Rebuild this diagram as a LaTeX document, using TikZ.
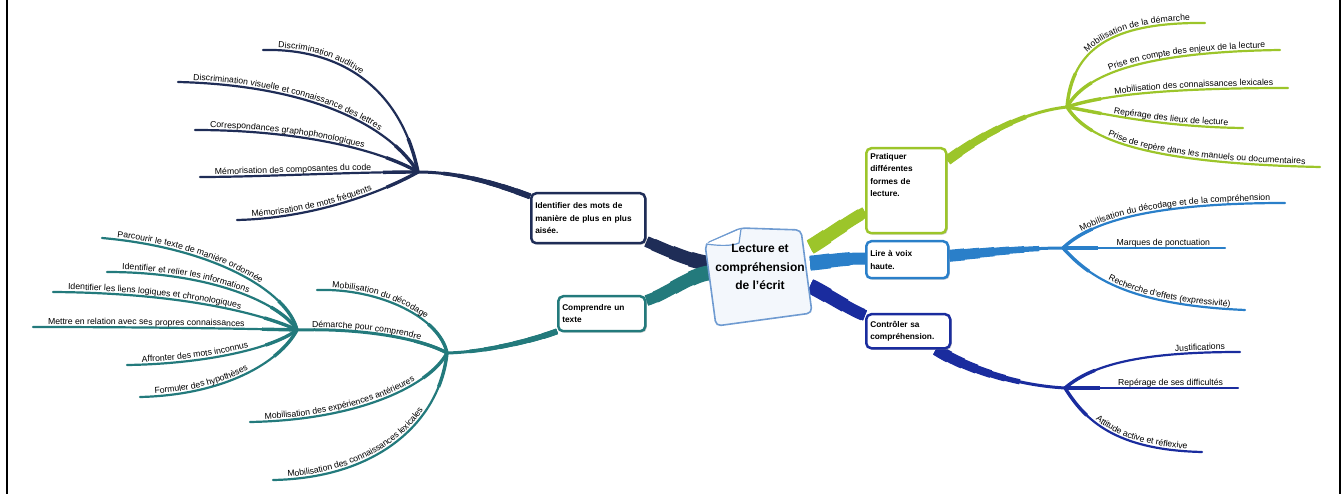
\documentclass[tikz,border=0pt]{standalone}
\usepackage{fontspec}
\setmainfont{Liberation Sans}
\usetikzlibrary{backgrounds,shadows,decorations.text}

\definecolor{navyc}{HTML}{1F2D57}
\definecolor{tealc}{HTML}{237A7C}
\definecolor{greenc}{HTML}{9CC52A}
\definecolor{bluec}{HTML}{2A7FC9}
\definecolor{royalc}{HTML}{1A2C9E}
\definecolor{pageedge}{HTML}{6F9BD1}
\definecolor{pagefill}{HTML}{F3F7FC}

\newcommand\leaffont{\fontsize{8.7}{11}\selectfont\color{black}}

\tikzset{
  trunk/.style={draw=#1, line width=10,
    preaction={draw=#1, line width=15, dash pattern=on 20pt off 3000pt},
    preaction={draw=#1, line width=13.5, dash pattern=on 40pt off 3000pt},
    preaction={draw=#1, line width=12, dash pattern=on 60pt off 3000pt},
    preaction={draw=#1, line width=11, dash pattern=on 80pt off 3000pt}},
  limb/.style 2 args={draw=#1, line width=3,
    preaction={draw=#1, line width=#2, dash pattern=on 15pt off 3000pt},
    preaction={draw=#1, line width=0.85*#2+0.45, dash pattern=on 30pt off 3000pt},
    preaction={draw=#1, line width=0.7*#2+0.9, dash pattern=on 45pt off 3000pt},
    preaction={draw=#1, line width=0.55*#2+1.35, dash pattern=on 60pt off 3000pt},
    preaction={draw=#1, line width=0.4*#2+1.8, dash pattern=on 75pt off 3000pt},
    preaction={draw=#1, line width=0.25*#2+2.25, dash pattern=on 90pt off 3000pt}},
  twig/.style={draw=#1, line width=2.2, line cap=round,
    preaction={draw=#1, line width=3.4, dash pattern=on 35pt off 3000pt}},
  lft/.style={postaction={decorate, decoration={text along path, reverse path,
    raise=2.5pt, text align={left indent=15pt}, text={|\leaffont|#1}}}},
  rgt/.style={postaction={decorate, decoration={text along path,
    raise=2.5pt, text align={right, right indent=15pt}, text={|\leaffont|#1}}}},
  box/.style={draw, line width=2.5, rounded corners=5, fill=white, anchor=north west,
    align=left, inner xsep=4, inner ysep=4, font=\bfseries\fontsize{8.3}{12.5}\selectfont,
    drop shadow={shadow xshift=1.5pt, shadow yshift=-1.5pt, fill=black!40, opacity=0.5}}
}

\begin{document}
\begin{tikzpicture}[x=1pt, y=-1pt]
  \useasboundingbox (0,0) rectangle (1344,494);
  \draw[line width=2.5] (7,0) -- (7,494);
  \draw[line width=2.5] (1340,0) -- (1340,494);

  \node[font=\bfseries\fontsize{12}{18.5}\selectfont, align=center, minimum width=100, minimum height=78] (root) at (760,267) {Lecture et\\compréhension\\de l'écrit};

  \node[box, draw=navyc, text width=106, minimum height=50] (ident) at (530,192) {Identifier des mots de\\manière de plus en plus\\aisée.};
  \node[box, draw=tealc, text width=79, minimum height=35] (compr) at (557,295) {Comprendre un\\texte};
  \node[box, draw=greenc, text width=72, minimum height=85] (prat) at (865,147) {Pratiquer\\différentes\\formes de\\lecture.\\[19pt]~};
  \node[box, draw=bluec, text width=74, minimum height=37] (lire) at (865,240) {Lire à voix\\haute.};
  \node[box, draw=royalc, text width=76, minimum height=34] (ctrl) at (865,313) {Contrôler sa\\compréhension.};

  \coordinate (hId) at (418,172);
  \coordinate (hComp) at (447,353);
  \coordinate (hDem) at (297,330);
  \coordinate (hPrat) at (1067,107);
  \coordinate (hLire) at (1063,248);
  \coordinate (hCtrl) at (1065,388);

  \coordinate (id1) at (263,50);
  \coordinate (id2) at (178,82);
  \coordinate (id3) at (195,130);
  \coordinate (id4) at (200,177);
  \coordinate (id5) at (237,220);
  \coordinate (co1) at (317,290);
  \coordinate (co2) at (250,422);
  \coordinate (co3) at (273,480);
  \coordinate (de1) at (102,238);
  \coordinate (de2) at (107,272);
  \coordinate (de3) at (53,292);
  \coordinate (de4) at (33,327);
  \coordinate (de5) at (127,365);
  \coordinate (de6) at (140,397);
  \coordinate (pr1) at (1205,23);
  \coordinate (pr2) at (1280,50);
  \coordinate (pr3) at (1288,88);
  \coordinate (pr4) at (1243,128);
  \coordinate (pr5) at (1320,167);
  \coordinate (li1) at (1285,203);
  \coordinate (li2) at (1225,248);
  \coordinate (li3) at (1245,310);
  \coordinate (ct1) at (1240,352);
  \coordinate (ct2) at (1238,388);
  \coordinate (ct3) at (1202,452);

  \begin{scope}[on background layer]
    % Identifier des mots
    \draw[trunk=navyc] (root) .. controls (690,262) and (655,245) .. (ident);
    \draw[limb={navyc}{6}] (ident) .. controls (500,185) and (460,172) .. (hId);
    \draw[twig=navyc, lft={Discrimination auditive}] (hId) .. controls (402,92) and (345,48) .. (id1);
    \draw[twig=navyc, lft={Discrimination visuelle et connaissance des lettres}] (hId) .. controls (385,120) and (300,85) .. (id2);
    \draw[twig=navyc, lft={Correspondances graphophonologiques}] (hId) .. controls (380,150) and (300,130) .. (id3);
    \draw[twig=navyc, lft={Mémorisation des composantes du code}] (hId) .. controls (350,172) and (260,177) .. (id4);
    \draw[twig=navyc, lft={Mémorisation de mots fréquents}] (hId) .. controls (390,188) and (320,218) .. (id5);

    % Comprendre un texte
    \draw[trunk=tealc] (root) .. controls (690,275) and (665,295) .. (compr);
    \draw[limb={tealc}{6}] (compr) .. controls (540,338) and (490,352) .. (hComp);
    \draw[twig=tealc, lft={Mobilisation du décodage}] (hComp) .. controls (440,318) and (380,288) .. (co1);
    \draw[twig=tealc, line width=3, lft={Démarche pour comprendre}] (hComp) .. controls (420,338) and (360,328) .. (hDem);
    \draw[twig=tealc, lft={Mobilisation des expériences antérieures}] (hComp) .. controls (430,385) and (360,420) .. (co2);
    \draw[twig=tealc, lft={Mobilisation des connaissances lexicales}] (hComp) .. controls (440,420) and (380,478) .. (co3);
    \draw[twig=tealc, lft={Parcourir le texte de manière ordonnée}] (hDem) .. controls (288,292) and (215,248) .. (de1);
    \draw[twig=tealc, lft={Identifier et relier les informations}] (hDem) .. controls (282,305) and (215,272) .. (de2);
    \draw[twig=tealc, lft={Identifier les liens logiques et chronologiques}] (hDem) .. controls (272,318) and (195,293) .. (de3);
    \draw[twig=tealc, lft={Mettre en relation avec ses propres connaissances}] (hDem) .. controls (220,328) and (120,327) .. (de4);
    \draw[twig=tealc, lft={Affronter des mots inconnus}] (hDem) .. controls (270,350) and (200,364) .. (de5);
    \draw[twig=tealc, lft={Formuler des hypothèses}] (hDem) .. controls (280,362) and (225,395) .. (de6);

    % Pratiquer differentes formes de lecture
    \draw[trunk=greenc] (root) .. controls (815,245) and (850,220) .. (prat);
    \draw[limb={greenc}{10}] (prat) .. controls (975,140) and (1020,112) .. (hPrat);
    \draw[twig=greenc, rgt={Mobilisation de la démarche}] (hPrat) .. controls (1072,50) and (1110,22) .. (pr1);
    \draw[twig=greenc, rgt={Prise en compte des enjeux de la lecture}] (hPrat) .. controls (1085,75) and (1140,52) .. (pr2);
    \draw[twig=greenc, rgt={Mobilisation des connaissances lexicales}] (hPrat) .. controls (1100,96) and (1160,88) .. (pr3);
    \draw[twig=greenc, rgt={Repérage des lieux de lecture}] (hPrat) .. controls (1100,113) and (1160,127) .. (pr4);
    \draw[twig=greenc, rgt={Prise de repère dans les manuels ou documentaires}] (hPrat) .. controls (1085,135) and (1130,163) .. (pr5);

    % Lire a voix haute
    \draw[trunk=bluec] (root) .. controls (825,262) and (845,258) .. (lire);
    \draw[limb={bluec}{12}] (lire) .. controls (990,252) and (1030,248) .. (hLire);
    \draw[twig=bluec, rgt={Mobilisation du décodage et de la compréhension}] (hLire) .. controls (1090,222) and (1150,203) .. (li1);
    \draw[twig=bluec, rgt={Marques de ponctuation}] (hLire) -- (li2);
    \draw[twig=bluec, rgt={Recherche d'effets (expressivité)}] (hLire) .. controls (1090,278) and (1130,305) .. (li3);

    % Controler sa comprehension
    \draw[trunk=royalc] (root) .. controls (820,290) and (850,310) .. (ctrl);
    \draw[limb={royalc}{12}] (ctrl) .. controls (960,365) and (1010,385) .. (hCtrl);
    \draw[twig=royalc, rgt={Justifications}] (hCtrl) .. controls (1095,362) and (1150,352) .. (ct1);
    \draw[twig=royalc, rgt={Repérage de ses difficultés}] (hCtrl) -- (ct2);
    \draw[twig=royalc, rgt={Attitude active et réflexive}] (hCtrl) .. controls (1085,420) and (1115,450) .. (ct3);

    % feuille centrale
    \filldraw[draw=pageedge, fill=pagefill, line width=1.6, rounded corners=5] (705,244) -- (741,228) -- (801,230) -- (812,313) -- (716,326) -- cycle;
    \filldraw[draw=pageedge, fill=white, line width=1.2] (706,244) .. controls (720,246) and (732,246) .. (739,243) -- (741,229);
  \end{scope}
\end{tikzpicture}
\end{document}
